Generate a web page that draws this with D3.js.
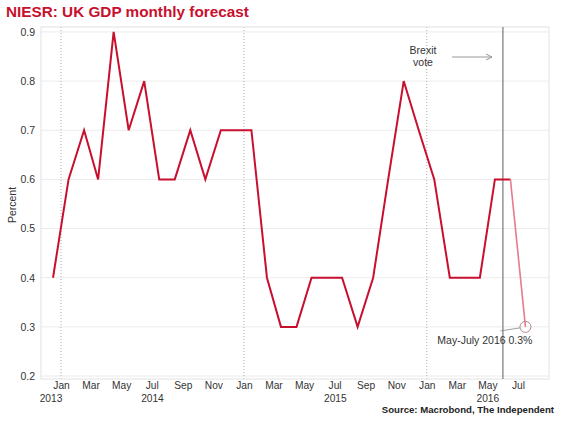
<!DOCTYPE html>
<html><head><meta charset="utf-8">
<script src="https://cdn.jsdelivr.net/npm/d3@7"></script>
<style>body{margin:0;background:#fff;} svg{display:block;font-family:"Liberation Sans",Arial,sans-serif;}</style>
</head><body><svg id="c" width="564" height="423"></svg>
<script>
// Data (monthly, Dec 2013 – Jul 2016)
const months = ["2013-12","2014-01","2014-02","2014-03","2014-04","2014-05","2014-06","2014-07","2014-08","2014-09","2014-10","2014-11","2014-12",
"2015-01","2015-02","2015-03","2015-04","2015-05","2015-06","2015-07","2015-08","2015-09","2015-10","2015-11","2015-12",
"2016-01","2016-02","2016-03","2016-04","2016-05","2016-06","2016-07"];
const values = [0.4,0.6,0.7,0.6,0.9,0.7,0.8,0.6,0.6,0.7,0.6,0.7,0.7,
0.7,0.4,0.3,0.3,0.4,0.4,0.4,0.3,0.4,0.6,0.8,0.7,
0.6,0.4,0.4,0.4,0.6,0.6,0.3];
const forecastFrom = "2016-06"; // last segment drawn lighter
const yTicks = [0.2,0.3,0.4,0.5,0.6,0.7,0.8,0.9];
const monthTickLabels = ["Jan","Mar","May","Jul","Sep","Nov"];
const yearLabels = ["2013","2014","2015","2016"];
const brexitDate = "2016-06-01";
const annotationText = "May-July 2016 0.3%";

const svg = d3.select("#c");
const parse = s => { const [y,m] = s.split("-").map(Number); return new Date(y, m-1, 16); };
const data = months.map((m,i)=>({date: parse(m), value: values[i], key: m}));

const L=41, R=549, T=27, B=379;
const x = d3.scaleTime().domain([new Date(2013,10,22), new Date(2016,8,1)]).range([L,R]);
const y = d3.scaleLinear().domain([0.194,0.91]).range([B,T]);

// horizontal grid
svg.append("g").selectAll("line").data(yTicks).join("line")
  .attr("x1",L).attr("x2",R).attr("y1",d=>y(d)).attr("y2",d=>y(d))
  .attr("stroke","#ebebeb").attr("stroke-width",1);

// vertical dotted grid at January
const jans = d3.timeYear.range(new Date(2014,0,1), new Date(2016,8,1));
svg.append("g").selectAll("line").data(jans).join("line")
  .attr("x1",d=>x(d)).attr("x2",d=>x(d)).attr("y1",T).attr("y2",B)
  .attr("stroke","#aaa").attr("stroke-width",1).attr("stroke-dasharray","1,2");

// frame
svg.append("rect").attr("x",L).attr("y",T).attr("width",R-L).attr("height",B-T)
  .attr("fill","none").attr("stroke","#e2e2e2");

// Brexit line
const bx = x(d3.timeParse("%Y-%m-%d")(brexitDate));
svg.append("line").attr("x1",bx).attr("x2",bx).attr("y1",T).attr("y2",B)
  .attr("stroke","#777").attr("stroke-width",1.2);

// y axis labels
const yAxis = d3.axisLeft(y).tickValues(yTicks).tickFormat(d3.format(".1f")).tickSize(0).tickPadding(6);
const ya = svg.append("g").attr("transform",`translate(${L},0)`).call(yAxis);
ya.select(".domain").remove();
ya.selectAll("text").attr("font-size",10.5).attr("fill","#333").attr("font-family","Liberation Sans, Arial, sans-serif");

// x axis month labels
const mticks = d3.timeMonth.every(2).range(new Date(2014,0,1), new Date(2016,8,1));
const xAxis = d3.axisBottom(x).tickValues(mticks).tickFormat(d=>monthTickLabels[d.getMonth()/2]).tickSize(0).tickPadding(3);
const xa = svg.append("g").attr("transform",`translate(0,${B})`).call(xAxis);
xa.select(".domain").remove();
xa.selectAll("text").attr("font-size",10.2).attr("fill","#333").attr("font-family","Liberation Sans, Arial, sans-serif");

// year labels centered on visible span of each year
const [d0,d1] = x.domain();
svg.append("g").selectAll("text").data(yearLabels).join("text")
  .attr("x",d=>{const yr=+d; const a=new Date(Math.max(+d0,+new Date(yr,0,1))); const b=new Date(Math.min(+d1,+new Date(yr+1,0,1))); return (x(a)+x(b))/2;})
  .attr("y",402).attr("text-anchor","middle").attr("font-size",10.2).attr("fill","#333").text(d=>d);

// y title
svg.append("text").attr("transform","translate(16,205) rotate(-90)").attr("text-anchor","middle")
  .attr("font-size",10.5).attr("fill","#333").text("Percent");

// main line
const line = d3.line().x(d=>x(d.date)).y(d=>y(d.value));
const idx = months.indexOf(forecastFrom);
svg.append("path").datum(data.slice(0,idx+1)).attr("d",line)
  .attr("fill","none").attr("stroke","#c8102e").attr("stroke-width",2).attr("stroke-linejoin","miter");
svg.append("path").datum(data.slice(idx)).attr("d",line)
  .attr("fill","none").attr("stroke","#e87a8e").attr("stroke-width",1.6);

// last point annotation
const last = data[data.length-1];
const lx = x(last.date), ly = y(last.value);
svg.append("circle").attr("cx",lx).attr("cy",ly).attr("r",5.5).attr("fill","none").attr("stroke","#b08890").attr("stroke-width",1);
svg.append("line").attr("x1",lx-5.5).attr("y1",ly+1).attr("x2",lx-25).attr("y2",ly+4).attr("stroke","#888").attr("stroke-width",0.8);
svg.append("text").attr("x",lx+7).attr("y",ly+17).attr("text-anchor","end").attr("font-size",10.5).attr("fill","#333").text(annotationText);

// Brexit annotation
svg.append("text").attr("x",423).attr("y",54).attr("text-anchor","middle").attr("font-size",10.5).attr("fill","#333").text("Brexit");
svg.append("text").attr("x",423).attr("y",66).attr("text-anchor","middle").attr("font-size",10.5).attr("fill","#333").text("vote");
svg.append("line").attr("x1",452).attr("y1",57).attr("x2",492).attr("y2",57).attr("stroke","#999").attr("stroke-width",1);
svg.append("path").attr("d","M486,54 L492,57 L486,60").attr("fill","none").attr("stroke","#999").attr("stroke-width",1);

// title & source
svg.append("text").attr("x",6).attr("y",17).attr("font-size",15.3).attr("font-weight","bold").attr("fill","#c8102e").text("NIESR: UK GDP monthly forecast");
svg.append("text").attr("x",554).attr("y",413).attr("text-anchor","end").attr("font-size",9.6).attr("font-weight","bold").attr("fill","#222").text("Source: Macrobond, The Independent");
</script></body></html>
